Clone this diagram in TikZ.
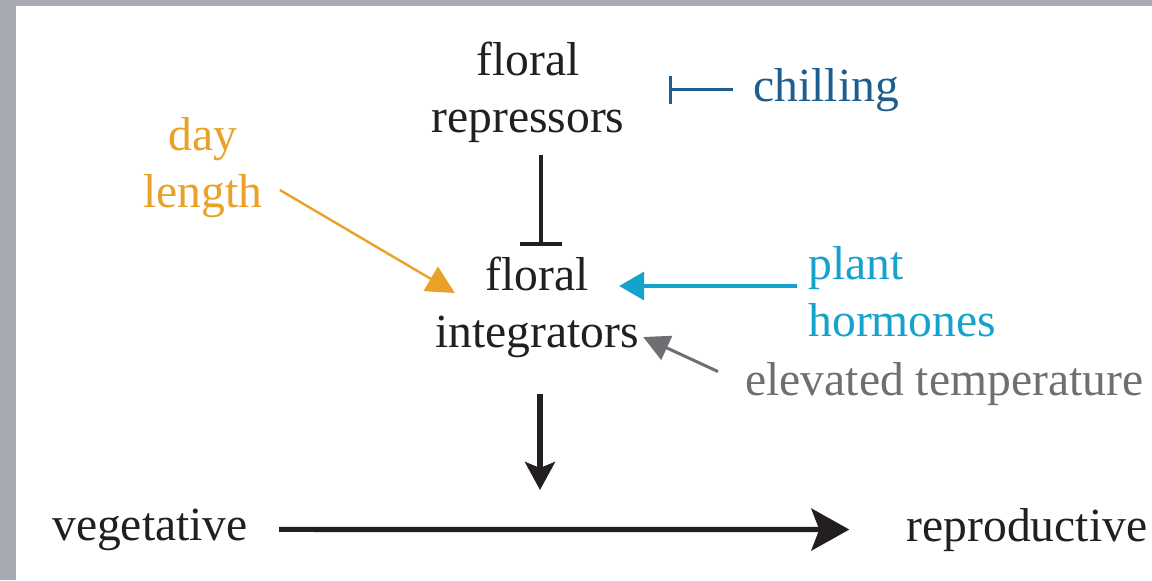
\documentclass[tikz,border=0pt]{standalone}
\usepackage{fontspec}
\setmainfont{Liberation Serif}
\usetikzlibrary{arrows.meta}
\definecolor{bordergrey}{HTML}{A7AAB1}
\definecolor{txt}{HTML}{231F20}
\definecolor{dayor}{HTML}{E9A227}
\definecolor{chillblue}{HTML}{1D5E8E}
\definecolor{hormcyan}{HTML}{15A2CC}
\definecolor{tempgrey}{HTML}{6E6F72}
\tikzset{
  lbl/.style={inner sep=0pt, text=txt, font=\fontsize{23.8pt}{28.5pt}\selectfont},
  mline/.style={lbl, align=center},
  inhib/.style={line width=1.7pt, txt, -{Bar[width=21pt]}},
  chillinh/.style={line width=1.7pt, chillblue, -{Bar[width=14pt]}},
  dayarr/.style={line width=1.2pt, dayor, -{Triangle[length=14pt,width=14pt]}},
  hormarr/.style={line width=1.8pt, hormcyan, -{Triangle[length=12.5pt,width=14pt]}},
  temparr/.style={line width=1.5pt, tempgrey, -{Triangle[length=13pt,width=13pt]}},
  downarr/.style={line width=2.6pt, txt, -{Stealth[length=14pt,width=15pt,inset=3pt]}},
  mainarr/.style={line width=2.6pt, txt, -{Stealth[length=19pt,width=21pt,inset=4pt]}}
}
\begin{document}
\begin{tikzpicture}[x=0.5pt,y=-0.5pt]
\useasboundingbox (0,0) rectangle (1152,580);
\fill[bordergrey] (0,0) rectangle (1152,580);
\fill[white] (16,6) rectangle (1152,580);

\node[mline] (rep) at (528,92) {floral\\repressors};
\node[mline] (integ) at (537,307.5) {floral\\integrators};
\node[mline, text=dayor] (day) at (203,167.5) {day\\length};
\node[lbl, align=left, text=hormcyan, anchor=west] (horm) at (808,291.5) {plant\\hormones};
\node[lbl, text=chillblue, anchor=base west] (chill) at (753,101) {chilling};
\node[lbl, text=tempgrey, anchor=base west] (temp) at (745,395) {elevated temperature};
\node[lbl, anchor=base] (veg) at (150,540) {vegetative};
\node[lbl, anchor=base] (repro) at (1027,541) {reproductive};
\coordinate (downend) at (540,490);

\draw[chillinh] ([xshift=-10pt]chill.west) -- ([xshift=22pt]rep.east |- chill.west);
\draw[inhib] ([xshift=6.5pt,yshift=-6pt]rep.south) -- ([xshift=2pt,yshift=5.5pt]integ.north);
\draw[dayarr] ([xshift=8.5pt,yshift=-11.25pt]day.east) -- ([xshift=10pt,yshift=7.25pt]integ.west);
\draw[hormarr] ([xshift=-5.5pt,yshift=2.75pt]horm.west) -- ([xshift=-10pt,yshift=10.75pt]integ.east);
\draw[temparr] ([xshift=-13.5pt,yshift=6pt]temp.west) -- ([xshift=2pt,yshift=-14.75pt]integ.east);
\draw[downarr] ([xshift=1.5pt,yshift=-18pt]integ.south) -- (downend);
\draw[mainarr] ([xshift=15.5pt]veg.east) -- ([xshift=-28.5pt]repro.west);
\end{tikzpicture}
\end{document}
